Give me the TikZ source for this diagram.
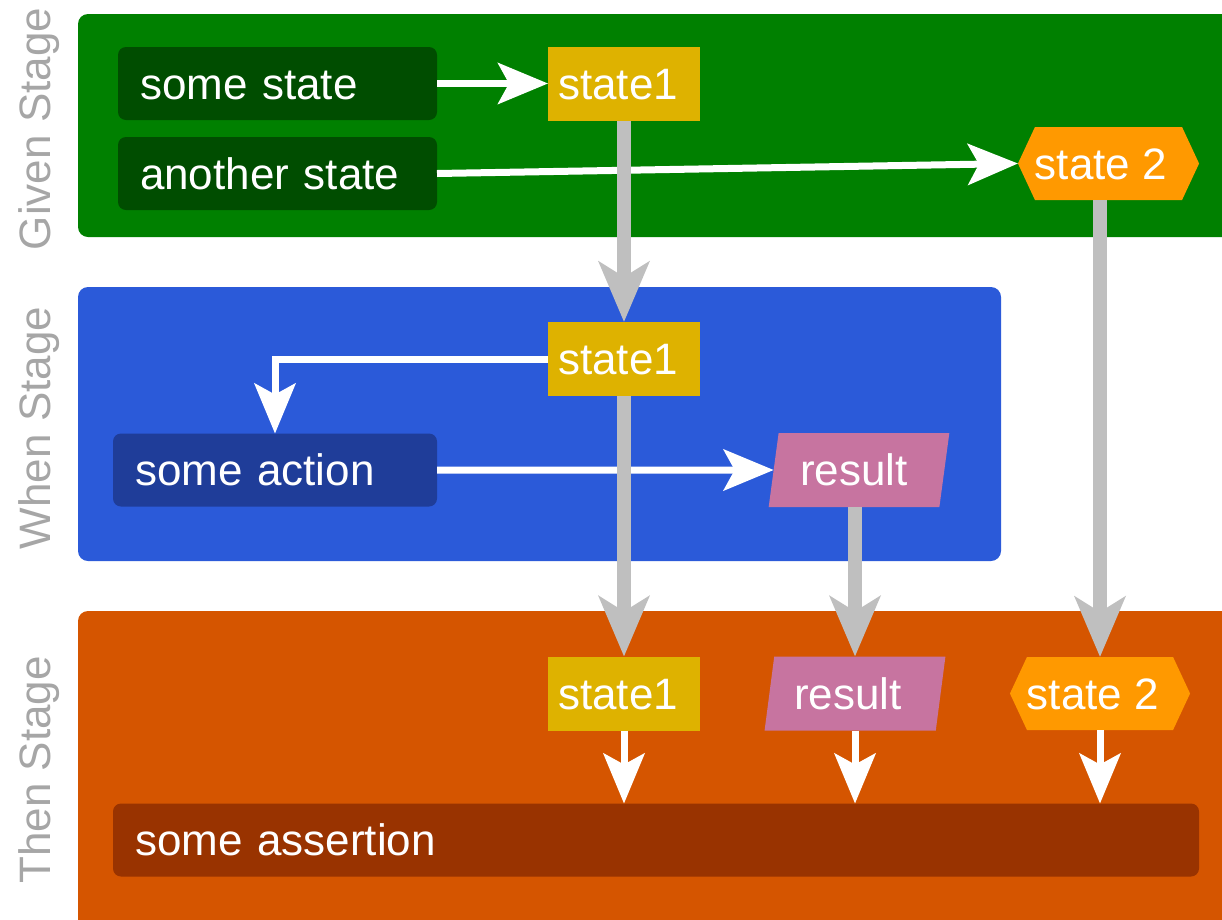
\documentclass[tikz,border=0pt]{standalone}
\usepackage{fontspec}
\setmainfont{Liberation Sans}
\usetikzlibrary{shapes.geometric,shapes.symbols,arrows.meta}
\definecolor{givenbg}{RGB}{0,128,0}
\definecolor{givenbox}{RGB}{0,77,0}
\definecolor{whenbg}{RGB}{43,90,217}
\definecolor{whenbox}{RGB}{31,61,153}
\definecolor{thenbg}{RGB}{213,85,0}
\definecolor{thenbox}{RGB}{153,51,0}
\definecolor{statey}{RGB}{222,178,0}
\definecolor{stateo}{RGB}{255,153,0}
\definecolor{respink}{RGB}{199,116,160}
\definecolor{flowgray}{RGB}{191,191,191}
\definecolor{labelgray}{RGB}{166,166,166}
\newcommand{\txtshiftleft}[2]{#2\kern#1pt}
\begin{document}
\begin{tikzpicture}[x=1pt,y=-1pt,
  every node/.style={font=\fontsize{44}{50}\selectfont, text=white, inner sep=0pt, outer sep=0pt, text height=31.5pt, text depth=0pt},
  panel/.style={rounded corners=10pt},
  itembox/.style={rounded corners=8pt, anchor=west, minimum height=73pt, inner xsep=22pt, align=left},
  ystate/.style={rectangle, fill=statey, minimum width=152pt, minimum height=74pt},
  ostate/.style={signal, signal to=west and east, signal pointer angle=130, fill=stateo, minimum width=180pt, minimum height=73pt},
  resbox/.style={trapezium, trapezium left angle=77, trapezium right angle=103, trapezium stretches=true, fill=respink, minimum width=181pt, minimum height=74pt},
  stagelabel/.style={rotate=90, text=labelgray},
  wflow/.style={draw=white, line width=7pt, -{Stealth[length=50pt,width=41pt,inset=11pt]}},
  gflow/.style={draw=flowgray, line width=14pt, -{Stealth[length=60pt,width=50pt,inset=15pt]}}
]
\useasboundingbox (0,0) rectangle (1222,919);
\clip (0,0) rectangle (1222,919);

% panels
\fill[panel, givenbg] (78,14) rectangle (1260,237);
\fill[panel, whenbg] (78,287) rectangle (1001,561);
\fill[panel, thenbg] (78,611) rectangle (1260,960);

% stage labels
\node[stagelabel] (lgiven) at (35,129) {Given Stage};
\node[stagelabel] (lwhen) at (35,428) {When Stage};
\node[stagelabel] (lthen) at (35,770) {Then Stage};

% given stage
\node[itembox, fill=givenbox, text width=275pt] (some) at (118,83.5) {some state};
\node[itembox, fill=givenbox, text width=275pt] (another) at (118,173.5) {another state};
\node[ystate] (s1g) at (624,83.5) {\txtshiftleft{12}{state1}};
\node[ostate] (s2g) at (1108.5,163.5) {\txtshiftleft{15}{state 2}};

% when stage
\node[ystate] (s1w) at (624,359) {\txtshiftleft{12}{state1}};
\node[itembox, fill=whenbox, text width=280pt] (act) at (113,470) {some action};
\node[resbox] (resw) at (859,470) {\txtshiftleft{10}{result}};

% then stage
\node[ystate] (s1t) at (624,693.5) {\txtshiftleft{12}{state1}};
\node[resbox] (rest) at (855,693.5) {\txtshiftleft{14}{result}};
\node[ostate] (s2t) at (1100,693.5) {\txtshiftleft{14}{state 2}};
\node[itembox, fill=thenbox, text width=1042pt] (assert) at (113,840) {some assertion};

% white flows
\draw[wflow] (some.east) -- (s1g.west);
\draw[wflow] (another.east) -- (s2g.west);
\draw[wflow] (s1w.west) -| (act.north);
\draw[wflow] (act.east) -- (resw.west);
\draw[wflow] (s1t.south) -- (s1t.south |- assert.north);
\draw[wflow] (rest.south) -- (rest.south |- assert.north);
\draw[wflow] (s2t.south) -- (s2t.south |- assert.north);

% gray flows
\draw[gflow] (s1g.south) -- (s1w.north);
\draw[gflow] (s1w.south) -- (s1t.north);
\draw[gflow] (rest.north |- resw.south) -- (rest.north);
\draw[gflow] (s2t.north |- s2g.south) -- (s2t.north);
\end{tikzpicture}
\end{document}
